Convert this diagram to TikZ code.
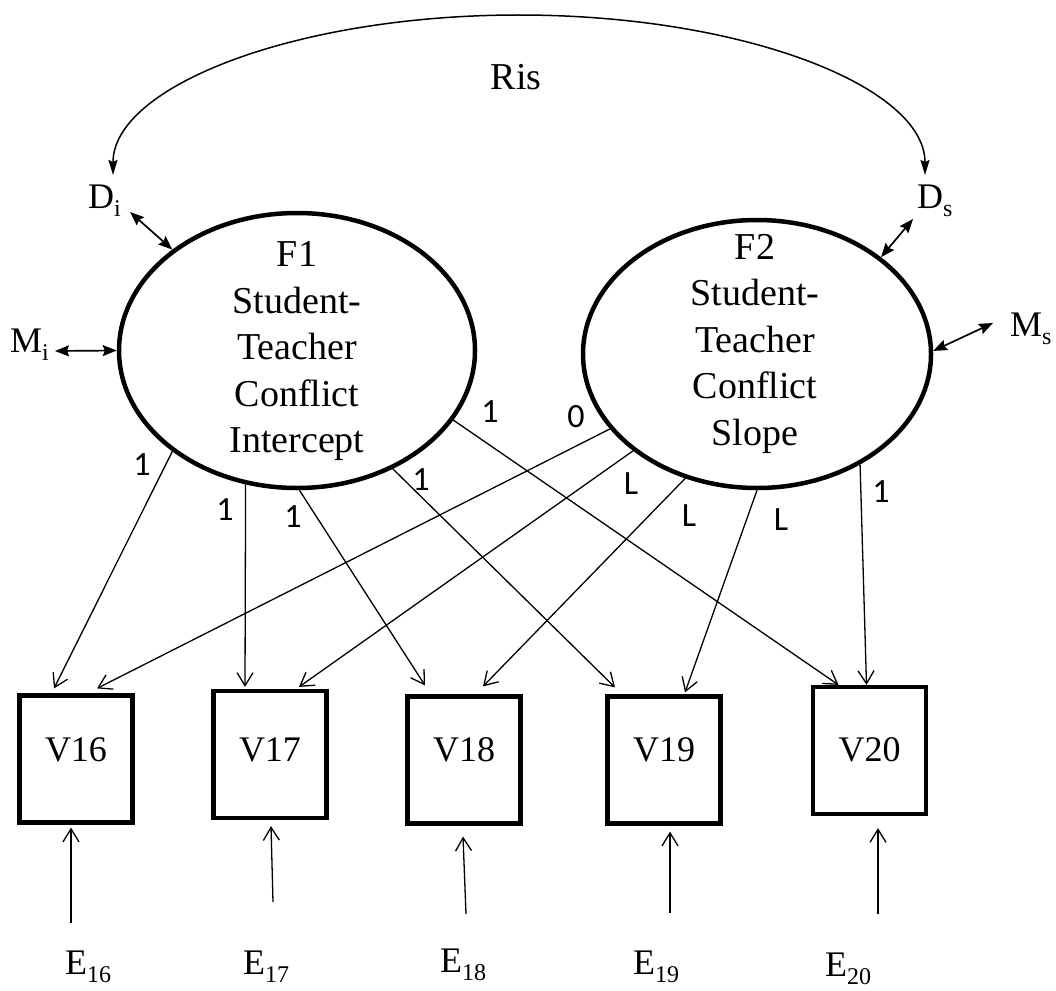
\documentclass[tikz,border=0pt]{standalone}
\usepackage{fontspec}
\setmainfont{Liberation Serif}
\newfontfamily\coeffont{Carlito}
\usetikzlibrary{arrows.meta,shapes.geometric}
% lowered, smaller index for E_16, D_i, ...
\newcommand{\lowsub}[1]{\raisebox{-8pt}{\fontsize{24}{24}\selectfont #1}}
\begin{document}
\begin{tikzpicture}[x=1pt,y=-1pt,
  latent/.style={shape=ellipse, draw, line width=4.5pt, inner sep=0pt},
  factortext/.style={align=center, inner sep=0pt, font=\fontsize{38}{46.5}\selectfont},
  indicator/.style={draw, rectangle, line width=4.2pt, minimum width=113pt,
    minimum height=127pt, inner sep=0pt, font=\fontsize{36}{36}\selectfont},
  lbl/.style={inner sep=0pt, anchor=base west, font=\fontsize{36}{36}\selectfont},
  coef/.style={inner sep=0pt, font={\fontsize{34pt}{34pt}\selectfont\coeffont}},
  load/.style={line width=1.3pt, -{Straight Barb[length=13pt,width=16pt]}},
  twoway/.style={line width=1.7pt,
    {Stealth[length=14pt,width=11pt,inset=2pt]}-{Stealth[length=14pt,width=11pt,inset=2pt]}},
  corr/.style={line width=1.5pt,
    {Stealth[length=15pt,width=9pt,inset=2pt]}-{Stealth[length=15pt,width=9pt,inset=2pt]}}
]
\useasboundingbox (0,0) rectangle (1056,990);

% latent growth factors
\node[latent, minimum width=356pt, minimum height=275pt] (F1) at (297,350.5) {};
\node[latent, minimum width=348pt, minimum height=268pt] (F2) at (757,354) {};
\node[factortext] (F1text) at (297,351.3) {F1\\Student-\\Teacher\\Conflict\\Intercept};
\node[factortext] (F2text) at (755,343.8) {F2\\Student-\\Teacher\\Conflict\\Slope};

% observed indicators
\node[indicator, text depth=18pt] (V16) at (76,759) {V16};
\node[indicator, text depth=9pt]  (V17) at (270,754.5) {V17};
\node[indicator, text depth=20pt] (V18) at (464,760) {V18};
\node[indicator, text depth=20pt] (V19) at (664,760) {V19};
\node[indicator, text depth=1pt]  (V20) at (869.5,750.5) {V20};

% error terms
\node[lbl] (E16) at (65,974) {E\lowsub{16}};
\node[lbl] (E17) at (243,974) {E\lowsub{17}};
\node[lbl] (E18) at (440,972) {E\lowsub{18}};
\node[lbl] (E19) at (633,974) {E\lowsub{19}};
\node[lbl] (E20) at (825,976) {E\lowsub{20}};

% disturbances and means
\node[lbl] (Di) at (88,208) {D\lowsub{i}};
\node[lbl] (Mi) at (10,352) {M\lowsub{i}};
\node[lbl] (Ds) at (917,208) {D\lowsub{s}};
\node[lbl] (Ms) at (1010,336) {M\lowsub{s}};
\node[inner sep=0pt, anchor=base, font=\fontsize{38}{38}\selectfont] (Ris) at (516,89) {Ris};

% covariance of the disturbances
\coordinate (arcL) at (113,175);
\draw[corr] (arcL) arc[start angle=180, end angle=0, x radius=406pt, y radius=160pt];

% disturbance / mean arrows
\coordinate (DiEnd) at (130,212);
\coordinate (MiEnd) at (55,351);
\coordinate (DsEnd) at (913,219);
\coordinate (MsEnd) at (993,323);
\draw[twoway] (DiEnd) -- (F1.141);
\draw[twoway] (MiEnd) -- (F1.180);
\draw[twoway] (DsEnd) -- (F2.38);
\draw[twoway] (MsEnd) -- (F2.1);

% loadings of the intercept factor
\draw[load] (F1.219) -- ([xshift=-22pt,yshift=5pt]V16.north);
\draw[load] (F1.249) -- ([xshift=-25pt,yshift=2pt]V17.north);
\draw[load] (F1.271) -- ([xshift=-39pt,yshift=9pt]V18.north);
\draw[load] (F1.309) -- ([xshift=-49pt,yshift=7pt]V19.north);
\draw[load] (F1.336) -- ([xshift=-31pt,yshift=0pt]V20.north);

% loadings of the slope factor
\draw[load] (F2.207) -- ([xshift=21pt,yshift=5pt]V16.north);
\draw[load] (F2.218) -- ([xshift=29pt,yshift=2pt]V17.north);
\draw[load] (F2.240) -- ([xshift=19pt,yshift=8pt]V18.north);
\draw[load] (F2.270) -- ([xshift=21pt,yshift=2pt]V19.north);
\draw[load] (F2.313) -- ([xshift=-3pt,yshift=0pt]V20.north);

% residual arrows
\coordinate (e16) at (71,923);
\coordinate (e17) at (273,902);
\coordinate (e18) at (466,914);
\coordinate (e19) at (670,913);
\coordinate (e20) at (878,914);
\draw[load] (e16) -- ([xshift=-5pt,yshift=-3pt]V16.south);
\draw[load] (e17) -- ([xshift=1pt,yshift=-6pt]V17.south);
\draw[load] (e18) -- ([xshift=-1pt,yshift=-11pt]V18.south);
\draw[load] (e19) -- ([xshift=6pt,yshift=-6pt]V19.south);
\draw[load] (e20) -- ([xshift=8.5pt,yshift=-12pt]V20.south);

% loading values
\node[coef] (c1) at (142,465) {1};
\node[coef] (c2) at (225,510) {1};
\node[coef] (c3) at (293,517) {1};
\node[coef] (c4) at (421,480) {1};
\node[coef] (c5) at (490,412) {1};
\node[coef] (c6) at (576,417) {0};
\node[coef] (c7) at (631,484) {L};
\node[coef] (c8) at (689,516) {L};
\node[coef] (c9) at (781,520) {L};
\node[coef] (c10) at (881,492) {1};
\end{tikzpicture}
\end{document}
